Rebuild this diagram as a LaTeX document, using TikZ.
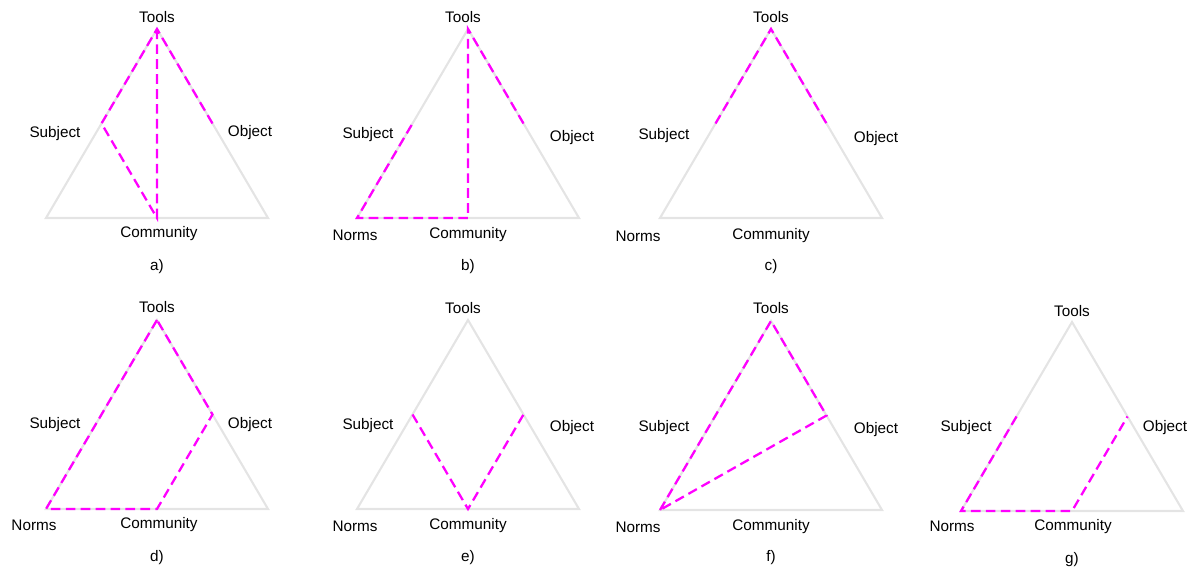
\documentclass[tikz,border=0pt]{standalone}
\usepackage{fontspec}
\setmainfont{Liberation Sans}
\usetikzlibrary{calc}
\definecolor{pathpink}{RGB}{255,0,255}
\definecolor{edgegray}{RGB}{228,228,228}

% one gray triangle with its named corners and side midpoints
\newcommand{\drawtri}[3]{%
  \path (#2,#3) coordinate (#1T) ++(-111,189) coordinate (#1L) ++(222,0) coordinate (#1R);
  \coordinate (#1S) at ($(#1T)!.5!(#1L)$);
  \coordinate (#1O) at ($(#1T)!.5!(#1R)$);
  \coordinate (#1C) at ($(#1L)!.5!(#1R)$);
  \draw[edge] (#1T) -- (#1L) -- (#1R) -- cycle;
}

\begin{document}
\begin{tikzpicture}[x=0.02cm,y=-0.02cm,
  edge/.style={draw=edgegray,line width=1.2pt},
  link/.style={draw=pathpink,line width=1.3pt,dash pattern=on 5.5pt off 3pt},
  lbl/.style={font=\fontsize{8.7}{10}\selectfont,inner sep=0pt}]
\useasboundingbox (0,0) rectangle (1189,567);

\drawtri{a}{157}{29}
\drawtri{b}{468}{29}
\drawtri{c}{771}{29}
\drawtri{d}{157}{320}
\drawtri{e}{468}{320}
\drawtri{f}{771}{321}
\drawtri{g}{1072}{322}

\draw[link] (aO) -- (aT) -- (aS) -- (aC) -- (aT);
\draw[link] (bO) -- (bT) -- (bC) -- (bL) -- (bS);
\draw[link] (cS) -- (cT) -- (cO);
\draw[link] (dT) -- (dL) -- (dC) -- (dO) -- cycle;
\draw[link] (eS) -- (eC) -- (eO);
\draw[link] (fL) -- (fT) -- (fO) -- cycle;
\draw[link] (gS) -- (gL) -- (gC) -- (gO);

% labels
\node[lbl] (aTools) at (157,17) {Tools};
\node[lbl] (aSubject) at (55,134) {Subject};
\node[lbl] (aObject) at (250,133) {Object};
\node[lbl] (aCommunity) at (159,234) {Community};
\node[lbl] (aCap) at (157,267) {a)};

\node[lbl] (bTools) at (463,17) {Tools};
\node[lbl] (bSubject) at (368,135) {Subject};
\node[lbl] (bObject) at (572,138) {Object};
\node[lbl] (bNorms) at (355,235) {Norms};
\node[lbl] (bCommunity) at (468,235) {Community};
\node[lbl] (bCap) at (468,267) {b)};

\node[lbl] (cTools) at (771,17) {Tools};
\node[lbl] (cSubject) at (664,136) {Subject};
\node[lbl] (cObject) at (876,139) {Object};
\node[lbl] (cNorms) at (638,236) {Norms};
\node[lbl] (cCommunity) at (771,236) {Community};
\node[lbl] (cCap) at (771,267) {c)};

\node[lbl] (dTools) at (157,307) {Tools};
\node[lbl] (dSubject) at (55,425) {Subject};
\node[lbl] (dObject) at (250,425) {Object};
\node[lbl] (dNorms) at (34,525) {Norms};
\node[lbl] (dCommunity) at (159,525) {Community};
\node[lbl] (dCap) at (157,558) {d)};

\node[lbl] (eTools) at (463,308) {Tools};
\node[lbl] (eSubject) at (368,426) {Subject};
\node[lbl] (eObject) at (572,428) {Object};
\node[lbl] (eNorms) at (355,526) {Norms};
\node[lbl] (eCommunity) at (468,526) {Community};
\node[lbl] (eCap) at (468,558) {e)};

\node[lbl] (fTools) at (771,308) {Tools};
\node[lbl] (fSubject) at (664,428) {Subject};
\node[lbl] (fObject) at (876,430) {Object};
\node[lbl] (fNorms) at (638,527) {Norms};
\node[lbl] (fCommunity) at (771,527) {Community};
\node[lbl] (fCap) at (771,558) {f)};

\node[lbl] (gTools) at (1072,311) {Tools};
\node[lbl] (gSubject) at (966,428) {Subject};
\node[lbl] (gObject) at (1165,428) {Object};
\node[lbl] (gNorms) at (952,526) {Norms};
\node[lbl] (gCommunity) at (1073,527) {Community};
\node[lbl] (gCap) at (1072,560) {g)};
\end{tikzpicture}
\end{document}
